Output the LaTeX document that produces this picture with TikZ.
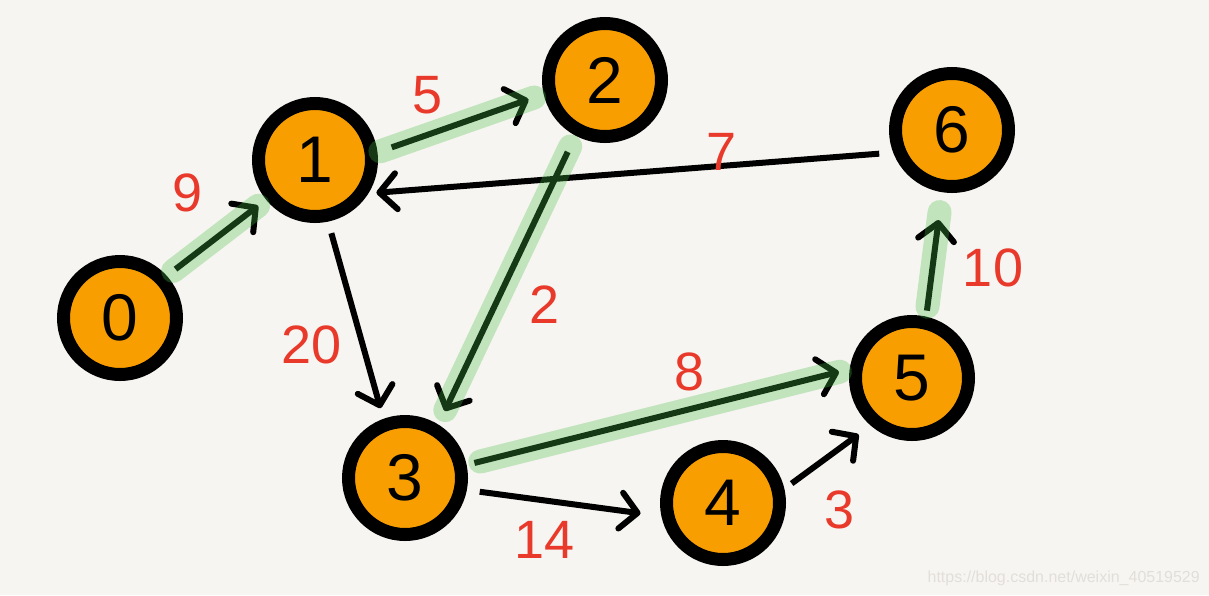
\documentclass[tikz,border=0pt]{standalone}
\usepackage{fontspec}
\setmainfont{Liberation Sans}
\usetikzlibrary{arrows.meta}
\definecolor{bg}{HTML}{F7F5F1}
\definecolor{nodeor}{HTML}{F99E00}
\definecolor{hl}{HTML}{45BE45}
\definecolor{lab}{HTML}{E8392A}
\definecolor{wmark}{HTML}{E2DFDA}
\begin{document}
\begin{tikzpicture}[x=1pt,y=-1pt,
 vert/.style={circle,draw=black,line width=13pt,fill=nodeor,minimum size=113pt,inner sep=0pt,font=\fontsize{66}{66}\selectfont},
 edge/.style={line width=6pt,-{Straight Barb[length=17pt,width=36pt,round]}},
 hilite/.style={line width=24pt,line cap=round,draw=hl,opacity=0.3},
 wt/.style={text=lab,font=\fontsize{54}{54}\selectfont,inner sep=0pt}]
\useasboundingbox (0,0) rectangle (1209,595);
\fill[bg] (0,0) rectangle (1209,595);
\node[vert] (n0) at (120,318) {0};
\node[vert] (n1) at (315,160) {1};
\node[vert] (n2) at (605,80) {2};
\node[vert] (n6) at (952,130) {6};
\node[vert] (n5) at (912,378) {5};
\node[vert] (n3) at (405,478) {3};
\node[vert] (n4) at (723,503) {4};
% edges
\draw[edge,shorten <=11pt,shorten >=10pt] (n0.42) -- (n1.219);
\draw[edge,shorten <=15pt,shorten >=16pt] (n1.7) -- (n2.193);
\draw[edge,shorten <=18pt,shorten >=15pt] (n2.242) -- (n3.58);
\draw[edge,shorten <=12pt,shorten >=11pt] (n1.282) -- (n3.110);
\draw[edge,shorten <=14pt,shorten >=8pt] (n6.201) -- (n1.328);
\draw[edge,shorten <=6pt,shorten >=28pt] (n5.77) -- (n6.261);
\draw[edge,shorten <=8pt,shorten >=11pt] (n3.12) -- (n5.172);
\draw[edge,shorten <=13pt,shorten >=21pt] (n3.349) -- (n4.192);
\draw[edge,shorten <=9pt,shorten >=15pt] (n4.13) -- (n5.229);
% highlights
\draw[hilite,shorten <=8pt,shorten >=10pt] (n0.42) -- (n1.219);
\draw[hilite,shorten <=3pt,shorten >=10pt] (n1.7) -- (n2.193);
\draw[hilite,shorten <=12pt,shorten >=16pt] (n2.242) -- (n3.58);
\draw[hilite,shorten <=10pt,shorten >=20pt] (n5.77) -- (n6.261);
\draw[hilite,shorten <=14pt,shorten >=10pt] (n3.12) -- (n5.172);
% weights
\node[wt] (w9) at (188,193) {9};
\node[wt] (w5) at (428,95) {5};
\node[wt] (w7) at (722,152) {7};
\node[wt] (w20) at (312,345) {20};
\node[wt] (w2) at (545,305) {2};
\node[wt] (w8) at (690,372) {8};
\node[wt] (w10) at (993,268) {10};
\node[wt] (w14) at (545,540) {14};
\node[wt] (w3) at (840,510) {3};
\node[text=wmark,font=\fontsize{16}{16}\selectfont,anchor=east,inner sep=0pt] (wm) at (1200,578) {https://blog.csdn.net/weixin\_40519529};
\end{tikzpicture}
\end{document}
